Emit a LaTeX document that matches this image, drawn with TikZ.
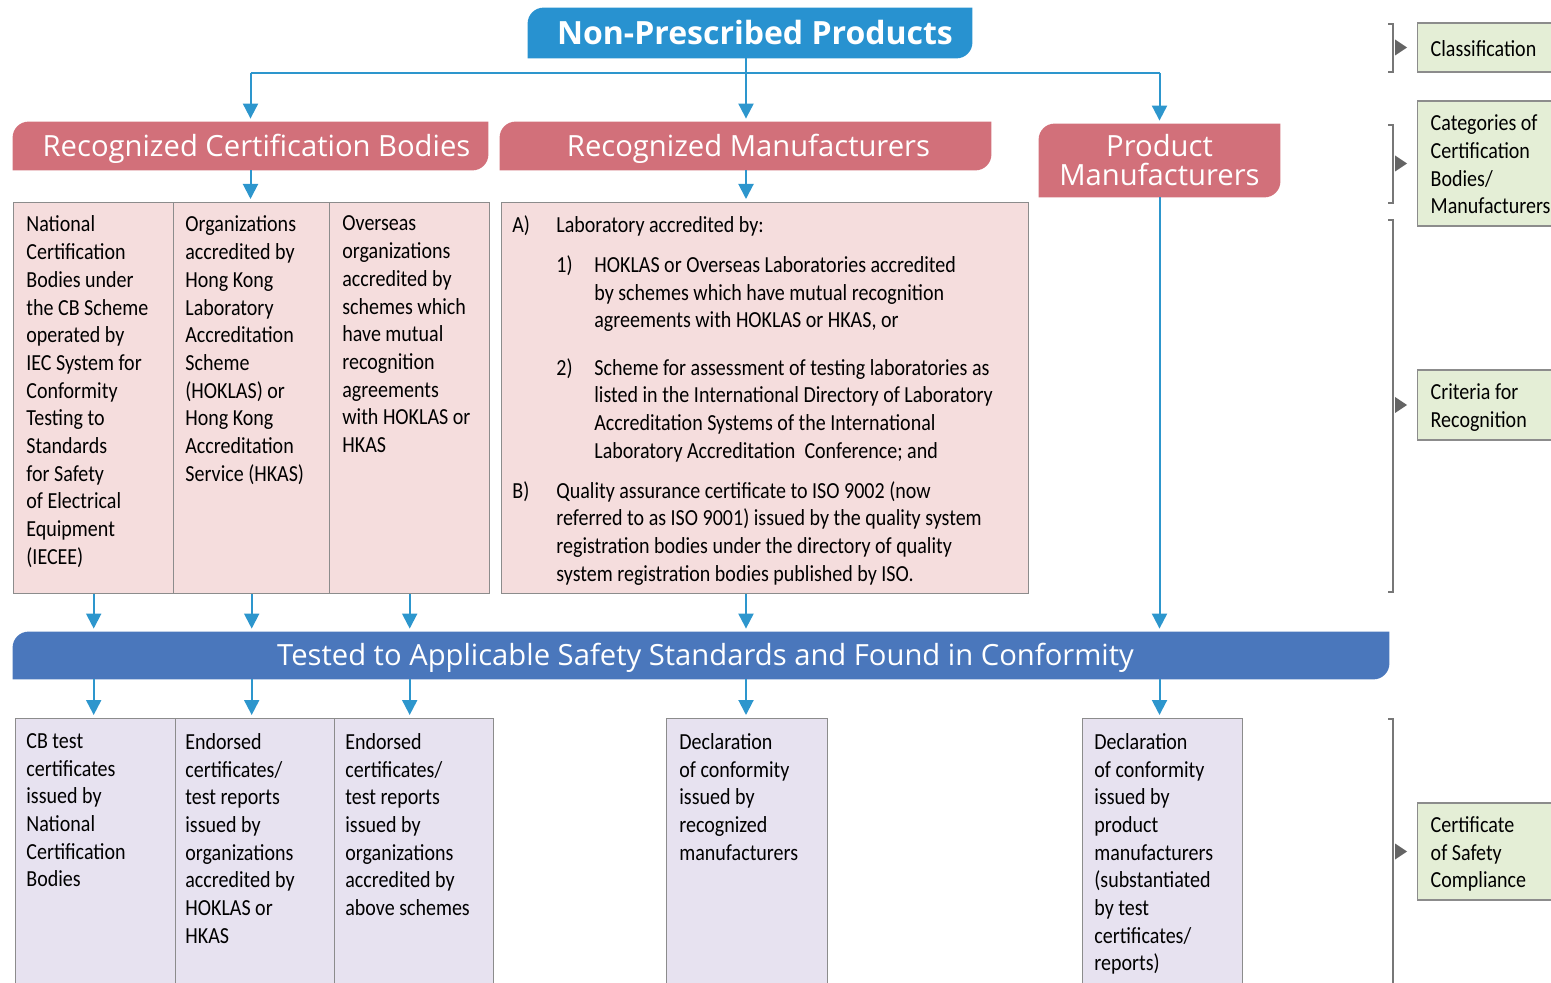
\documentclass[tikz,border=0pt]{standalone}
\usepackage{fontspec}
\setmainfont{Carlito}[FakeStretch=0.87]
\newfontfamily\headfont{Open Sans}
\usetikzlibrary{arrows.meta,backgrounds}

\definecolor{linkblue}{RGB}{45,150,205}
\definecolor{topblue}{RGB}{40,146,208}
\definecolor{barblue}{RGB}{74,119,188}
\definecolor{rosehead}{RGB}{210,112,122}
\definecolor{rosecell}{RGB}{245,221,221}
\definecolor{lilaccell}{RGB}{231,226,240}
\definecolor{sidegreen}{RGB}{228,238,214}
\definecolor{edgegray}{RGB}{140,140,140}
\definecolor{tipgray}{RGB}{100,100,100}

\newcommand\leafshape[2]{%
  \fill[#2] ([yshift=-8pt]#1.north west) arc[start angle=180,end angle=90,radius=8pt]
    -- (#1.north east) -- ([yshift=8pt]#1.south east) arc[start angle=0,end angle=-90,radius=8pt]
    -- (#1.south west) -- cycle;}
\newcommand\sidebrace[3]{%
  \draw[brace] (1388,#1) -- (1393,#1) -- (1393,#2) -- (1388,#2);
  \fill[tipgray] ([shift={(-22,-8)}]#3.west) -- ([shift={(-10,0)}]#3.west) -- ([shift={(-22,8)}]#3.west) -- cycle;}
\newcommand\sidetext[1]{\spaceskip=0pt\xspaceskip=0pt\relax\raisebox{-1.6pt}[\height][\depth]{\begin{tabular}{@{}l@{}}#1\end{tabular}}}

\tikzset{
  link/.style={draw=linkblue, line width=1pt},
  arr/.style={link, -{Triangle[width=7.5pt,length=7.5pt]}, shorten >=1.5pt},
  head/.style={inner sep=0pt, align=center, text=white, font=\headfont\fontsize{14.6}{14.5}\selectfont},
  oneline/.style={text height=11.9pt, text depth=1.5pt},
  cell/.style={draw=edgegray, line width=0.7pt, fill=#1, anchor=north west, inner sep=0pt},
  body/.style={anchor=north west, inner sep=0pt, align=left, font=\fontsize{11.5}{13.85}\selectfont, execute at begin node=\strut},
  side/.style={draw=edgegray, line width=0.7pt, fill=sidegreen, anchor=west, inner xsep=6.5pt, text width=80pt, align=left, font=\fontsize{11.5}{13.85}\selectfont},
  brace/.style={draw=edgegray!85!black, line width=0.7pt},
}

\begin{document}
\begin{tikzpicture}[x=0.5pt,y=-0.5pt]
\useasboundingbox (0,0) rectangle (1551,983);
\clip (0,0) rectangle (1551,983);

\node[head, font=\headfont\bfseries\fontsize{16}{17}\selectfont, text height=12.9pt, text depth=1.5pt, minimum width=222pt, minimum height=25pt] (top) at (750,33) {\hspace{5pt}Non-Prescribed Products};
\node[head, oneline, minimum width=237.5pt, minimum height=24pt] (rcb) at (250.5,146) {\hspace{6pt}Recognized Certification Bodies};
\node[head, oneline, minimum width=245.5pt, minimum height=24pt] (rm) at (745.5,146) {\hspace{3pt}Recognized Manufacturers};
\node[head, minimum width=120.5pt, minimum height=36.5pt] (pm) at (1159.5,160.5) {Product\\Manufacturers};
\node[head, oneline, minimum width=688pt, minimum height=23.5pt] (tested) at (701,655.5) {\hspace{4.5pt}Tested to Applicable Safety Standards and Found in Conformity};

\begin{scope}[on background layer]
\leafshape{top}{topblue}
\leafshape{rcb}{rosehead}
\leafshape{rm}{rosehead}
\leafshape{pm}{rosehead}
\leafshape{tested}{barblue}
\end{scope}

\node[cell=rosecell, minimum width=80pt, minimum height=195.5pt] (nat) at (13,202) {};
\node[cell=rosecell, minimum width=78pt, minimum height=195.5pt] (hk) at (173,202) {};
\node[cell=rosecell, minimum width=80pt, minimum height=195.5pt] (ovs) at (329,202) {};
\node[cell=rosecell, minimum width=263.5pt, minimum height=195.5pt] (rmbox) at (501,202) {};

\node[body] (natT) at ([shift={(13,13.6)}]nat.north west) {National\\Certification\\Bodies under\\the CB Scheme\\operated by\\IEC System for\\Conformity\\Testing to\\Standards\\for Safety\\of Electrical\\Equipment\\(IECEE)};
\node[body] (hkT) at ([shift={(12,13.6)}]hk.north west) {Organizations\\accredited by\\Hong Kong\\Laboratory\\Accreditation\\Scheme\\(HOKLAS) or\\Hong Kong\\Accreditation\\Service (HKAS)};
\node[body] (ovsT) at ([shift={(13,13.6)}]ovs.north west) {Overseas\\organizations\\accredited by\\schemes which\\have mutual\\recognition\\agreements\\with HOKLAS or\\HKAS};
\node[body] (rmT) at ([shift={(11,13.2)}]rmbox.north west) {%
\makebox[22pt][l]{A)}Laboratory accredited by:\\[6.2pt]
\hspace*{22pt}\makebox[19pt][l]{1)}HOKLAS or Overseas Laboratories accredited\\
\hspace*{41pt}by schemes which have mutual recognition\\
\hspace*{41pt}agreements with HOKLAS or HKAS, or\\[9.7pt]
\hspace*{22pt}\makebox[19pt][l]{2)}Scheme for assessment of testing laboratories as\\
\hspace*{41pt}listed in the International Directory of Laboratory\\
\hspace*{41pt}Accreditation Systems of the International\\
\hspace*{41pt}Laboratory Accreditation\ \ Conference; and\\[6.2pt]
\makebox[22pt][l]{B)}Quality assurance certificate to ISO 9002 (now\\
\hspace*{22pt}referred to as ISO 9001) issued by the quality system\\
\hspace*{22pt}registration bodies under the directory of quality\\
\hspace*{22pt}system registration bodies published by ISO.};

\node[cell=lilaccell, minimum width=80pt, minimum height=138.5pt] (cbt) at (15,718) {};
\node[cell=lilaccell, minimum width=79.5pt, minimum height=138.5pt] (hkt) at (175,718) {};
\node[cell=lilaccell, minimum width=79.5pt, minimum height=138.5pt] (ovt) at (334,718) {};
\node[cell=lilaccell, minimum width=80.5pt, minimum height=138.5pt] (rmd) at (666,718) {};
\node[cell=lilaccell, minimum width=80pt, minimum height=138.5pt] (pmd) at (1082,718) {};

\node[body] (cbtT) at ([shift={(11,15)}]cbt.north west) {CB test\\certificates\\issued by\\National\\Certification\\Bodies};
\node[body] (hktT) at ([shift={(10,15)}]hkt.north west) {Endorsed\\certificates/\\test reports\\issued by\\organizations\\accredited by\\HOKLAS or\\HKAS};
\node[body] (ovtT) at ([shift={(11,15)}]ovt.north west) {Endorsed\\certificates/\\test reports\\issued by\\organizations\\accredited by\\above schemes};
\node[body] (rmdT) at ([shift={(13,15)}]rmd.north west) {Declaration\\of conformity\\issued by\\recognized\\manufacturers};
\node[body] (pmdT) at ([shift={(12,15)}]pmd.north west) {Declaration\\of conformity\\issued by\\product\\manufacturers\\(substantiated\\by test\\certificates/\\reports)};

\coordinate (fork) at (746,73);
\draw[link] (top.south -| fork) -- (fork);
\draw[link] (fork -| rcb) -- (fork -| pm);
\draw[arr] (fork -| rcb) -- (rcb.north);
\draw[arr] (fork) -- (fork |- rm.north);
\draw[arr] (fork -| pm) -- (pm.north);
\draw[arr] (rcb.south) -- (rcb.south |- hk.north);
\draw[arr] (fork |- rm.south) -- (fork |- rmbox.north);
\draw[arr] (pm.south) -- (pm.south |- tested.north);
\foreach \c/\d in {nat/cbt,hk/hkt,ovs/ovt}{
  \draw[arr] (\c.south) -- (\c.south |- tested.north);
  \draw[arr] (\c.south |- tested.south) -- (\c.south |- \d.north);
}
\draw[arr] (fork |- rmbox.south) -- (fork |- tested.north);
\draw[arr] (fork |- tested.south) -- (fork |- rmd.north);
\draw[arr] (pm.south |- tested.south) -- (pm.south |- pmd.north);

\node[side, minimum height=24.5pt] (g1) at (1417,47.5) {\sidetext{Classification}};
\node[side, minimum height=62.5pt] (g2) at (1417,163.5) {\sidetext{Categories of\\Certification\\Bodies/\\Manufacturers}};
\node[side, minimum height=35pt] (g3) at (1417,405) {\sidetext{Criteria for\\Recognition}};
\node[side, minimum height=48.5pt] (g4) at (1417,851.5) {\sidetext{Certificate\\of Safety\\Compliance}};

\sidebrace{24}{72}{g1}
\sidebrace{125}{203}{g2}
\sidebrace{220}{592}{g3}
\sidebrace{719}{1000}{g4}
\end{tikzpicture}
\end{document}
